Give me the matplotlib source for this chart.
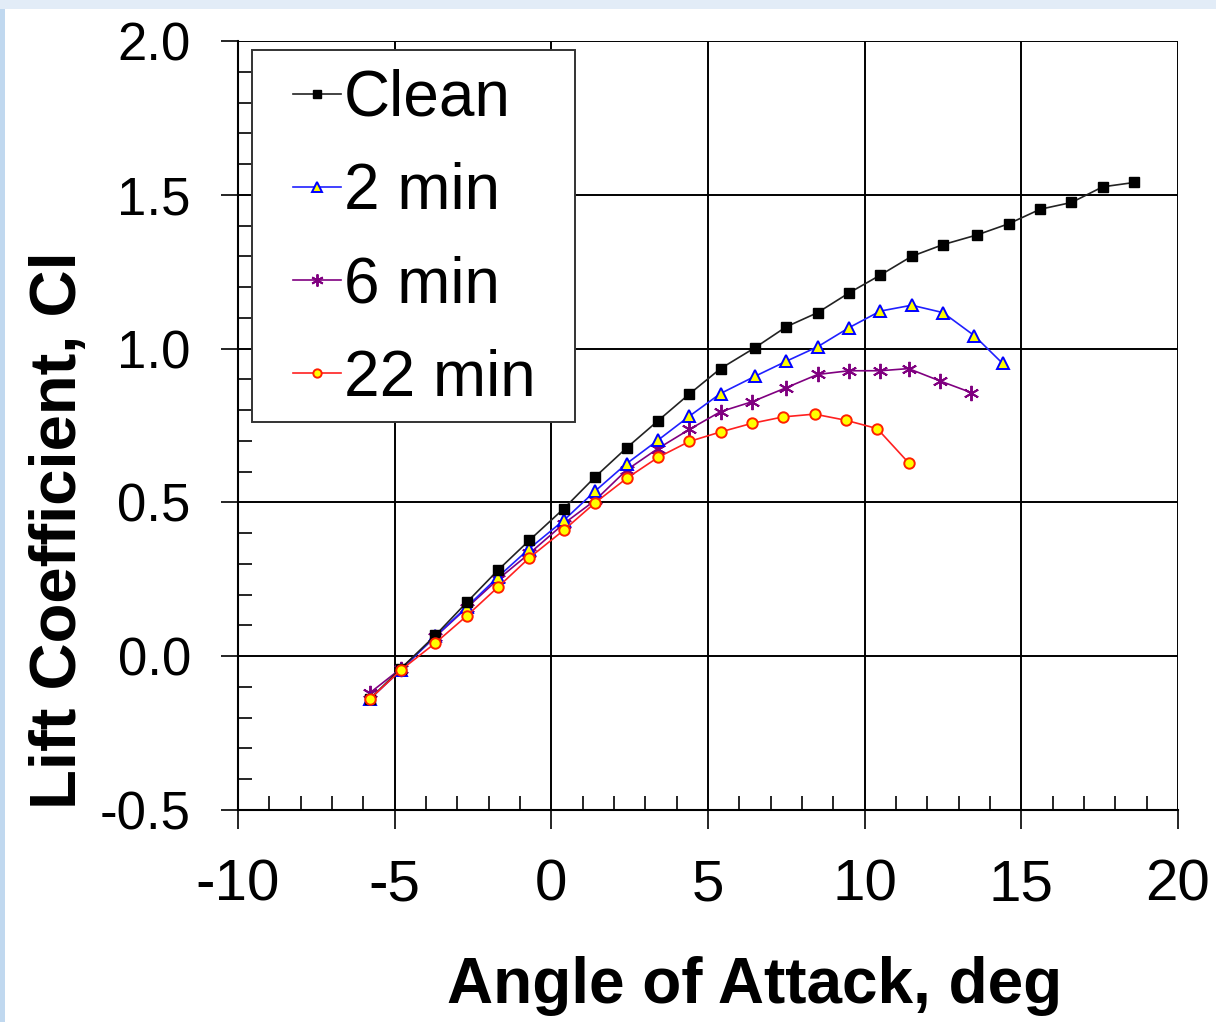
import matplotlib
matplotlib.use("Agg")
import matplotlib.pyplot as plt
from matplotlib.patches import Rectangle
from matplotlib.ticker import MultipleLocator, FormatStrFormatter

plt.rcParams['font.family'] = ['Liberation Sans', 'DejaVu Sans']
plt.rcParams['axes.unicode_minus'] = False

# ---- data ----
aoa_clean = [-5.8, -4.8, -3.7, -2.7, -1.7, -0.7, 0.4, 1.4, 2.4, 3.4, 4.4, 5.4, 6.5, 7.5,
             8.5, 9.5, 10.5, 11.5, 12.5, 13.6, 14.6, 15.6, 16.6, 17.6, 18.6]
cl_clean = [-0.14, -0.04, 0.068, 0.175, 0.28, 0.377, 0.48, 0.583, 0.677, 0.765, 0.852,
            0.935, 1.003, 1.071, 1.117, 1.181, 1.239, 1.30, 1.338, 1.37, 1.406, 1.453,
            1.475, 1.526, 1.54]

aoa_2 = [-5.8, -4.8, -3.7, -2.7, -1.7, -0.7, 0.4, 1.4, 2.4, 3.4, 4.4, 5.4, 6.5, 7.5,
         8.5, 9.5, 10.5, 11.5, 12.5, 13.5, 14.4]
cl_2 = [-0.14, -0.045, 0.065, 0.16, 0.258, 0.35, 0.442, 0.537, 0.626, 0.702, 0.78,
        0.854, 0.91, 0.959, 1.006, 1.068, 1.122, 1.141, 1.117, 1.042, 0.952]

aoa_6 = [-5.8, -4.8, -3.7, -2.7, -1.7, -0.7, 0.4, 1.4, 2.4, 3.4, 4.4, 5.4, 6.4, 7.5,
         8.5, 9.5, 10.5, 11.4, 12.4, 13.4]
cl_6 = [-0.12, -0.04, 0.063, 0.157, 0.25, 0.334, 0.431, 0.507, 0.605, 0.675, 0.737,
        0.795, 0.827, 0.873, 0.916, 0.928, 0.928, 0.935, 0.895, 0.857]

aoa_22 = [-5.8, -4.8, -3.7, -2.7, -1.7, -0.7, 0.4, 1.4, 2.4, 3.4, 4.4, 5.4, 6.4, 7.4,
          8.4, 9.4, 10.4, 11.4]
cl_22 = [-0.14, -0.045, 0.043, 0.131, 0.225, 0.32, 0.41, 0.499, 0.578, 0.646, 0.698,
         0.729, 0.757, 0.778, 0.787, 0.767, 0.74, 0.629]

labels = ["Clean", "2 min", "6 min", "22 min"]
x_ticks = [-10, -5, 0, 5, 10, 15, 20]
y_ticks = [-0.5, 0.0, 0.5, 1.0, 1.5, 2.0]

W, H = 1216, 1022
fig = plt.figure(figsize=(W / 100, H / 100), dpi=100)
fig.patch.set_facecolor('#E2ECF7')
fig.patches.append(Rectangle((5 / W, 0), 1 - 5 / W, 1 - 9 / H, transform=fig.transFigure,
                             facecolor='white', edgecolor='none', zorder=-10))
fig.patches.append(Rectangle((0, 0), 5 / W, 1 - 9 / H, transform=fig.transFigure,
                             facecolor='#C0D8EF', edgecolor='none', zorder=-10))

ax = fig.add_axes([238 / W, 1 - 810 / H, 940 / W, 769 / H])
ax.set_facecolor('white')
ax.set_zorder(1)

lw = 1.2
ax.plot(aoa_clean, cl_clean, color='#222222', lw=lw, marker='s', ms=7.5,
        mfc='black', mec='black', label=labels[0], zorder=5)
ax.plot(aoa_2, cl_2, color='#2020FF', lw=lw, marker='^', ms=9,
        mfc='#FFFF00', mec='#0000FF', mew=1.4, label=labels[1], zorder=4)
ax.plot(aoa_6, cl_6, color='#800080', lw=lw, marker=(6, 2, 0), ms=11,
        mfc='#800080', mec='#800080', mew=1.4, label=labels[2], zorder=3)
ax.plot(aoa_22, cl_22, color='#FF2020', lw=lw, marker='o', ms=7.5,
        mfc='#FFFF00', mec='#FF2000', mew=1.4, label=labels[3], zorder=6)

ax.set_xlim(-10, 20)
ax.set_ylim(-0.5, 2.0)
ax.set_xticks(x_ticks)
ax.set_yticks(y_ticks)
ax.yaxis.set_major_formatter(FormatStrFormatter('%.1f'))
ax.xaxis.set_minor_locator(MultipleLocator(1))
ax.yaxis.set_minor_locator(MultipleLocator(0.1))

ax.grid(True, which='major', color='black', lw=1.4)
ax.set_axisbelow(True)
for s in ax.spines.values():
    s.set_color('black')
    s.set_linewidth(1.5)
ax.spines['top'].set_visible(False)
ax.spines['right'].set_visible(False)

ax.tick_params(axis='x', which='major', direction='out', length=14, width=1.2,
               labelsize=42, pad=21)
ax.tick_params(axis='x', which='minor', direction='in', length=10, width=1.2)
ax.tick_params(axis='y', which='major', direction='out', length=12, width=1.2,
               labelsize=38, pad=22)
ax.tick_params(axis='y', which='minor', direction='in', length=10, width=1.2)

ax.set_xlabel("Angle of Attack, deg", fontsize=46, fontweight='bold')
ax.xaxis.set_label_coords(0.55, -0.19)
ax.set_ylabel("Lift Coefficient, Cl", fontsize=47, fontweight='bold')
ax.yaxis.set_label_coords(-0.158, 0.364)

# legend frame drawn separately, legend content positioned inside
ax.add_patch(Rectangle((0.0149, 0.5046), 0.3436, 0.4834, transform=ax.transAxes,
                       facecolor='white', edgecolor='#333333', lw=1.4, zorder=9,
                       clip_on=False))
leg = ax.legend(loc='upper left', bbox_to_anchor=(0.0585, 0.9636), borderaxespad=0,
                fontsize=46, frameon=False, handlelength=0.75,
                handletextpad=0.05, labelspacing=0.52, borderpad=0.0,
                markerscale=0.8)
leg.set_zorder(10)

fig.savefig("out.png", dpi=100, facecolor=fig.get_facecolor())
